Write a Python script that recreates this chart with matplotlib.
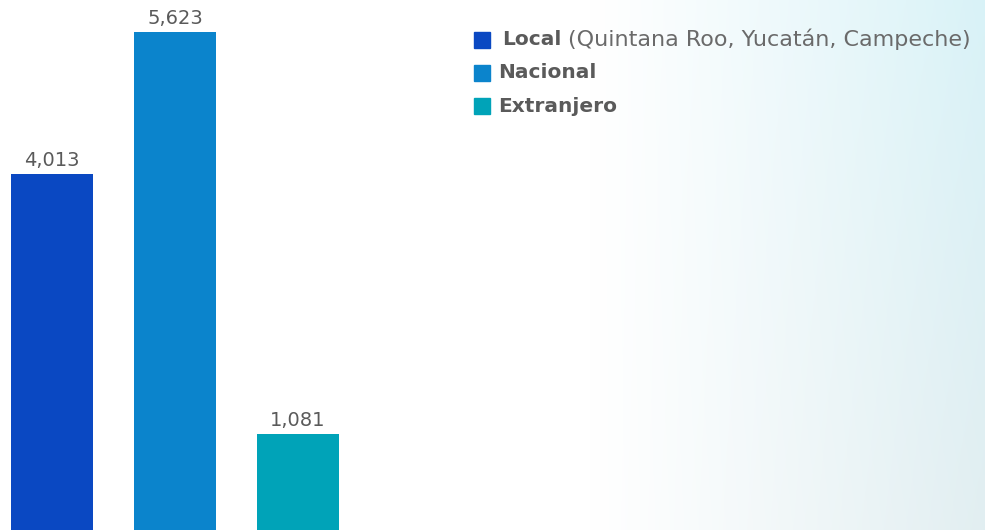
import numpy as np
import matplotlib
matplotlib.use("Agg")
import matplotlib.pyplot as plt
from matplotlib.patches import Rectangle

# --- datos ---
categorias = ["Local", "Nacional", "Extranjero"]
valores = [4013, 5623, 1081]
colores = ["#0a48c2", "#0b84cc", "#00a3b8"]
etiquetas = ["4,013", "5,623", "1,081"]
detalle_local = "(Quintana Roo, Yucatán, Campeche)"

gris = "#5a5a5a"
plt.rcParams['font.family'] = ['DejaVu Sans']

fig = plt.figure(figsize=(9.85, 5.3), dpi=100)

# fondo: degradado claro a la derecha
bg = fig.add_axes([0, 0, 1, 1], zorder=-10)
w, h = 400, 200
xx = np.linspace(0, 1, w)
yy = np.linspace(0, 1, h)[:, None]
t = np.clip((xx - 0.6) / 0.4, 0, 1) ** 1.1
cian = np.array([0.85, 0.95, 0.97])
grisf = np.array([0.91, 0.925, 0.93])
mezcla = (1 - yy * 0.6)[..., None] * cian + (yy * 0.6)[..., None] * grisf
img = np.ones((h, w, 3)) * (1 - t[None, :, None]) + mezcla * t[None, :, None]
bg.imshow(img, aspect='auto', extent=[0, 1, 0, 1], origin='upper')
bg.axis('off')

ax = fig.add_axes([0, 0, 1, 1])
ax.patch.set_alpha(0)
x = np.arange(len(valores))
barras = ax.bar(x, valores, width=0.667, color=colores)
for b, lab in zip(barras, etiquetas):
    ax.annotate(lab, (b.get_x() + b.get_width() / 2, b.get_height()),
                xytext=(0, 3), textcoords='offset points',
                ha='center', va='bottom', fontsize=14, color=gris)
ax.set_xlim(-0.423, 7.585)
ax.set_ylim(0, 5982)
ax.axis('off')

# leyenda manual
ys = [0.925, 0.864, 0.800]
for i, (cat, col) in enumerate(zip(categorias, colores)):
    fig.patches.append(Rectangle((474 / 985, ys[i] - 0.016), 16 / 985, 16 / 530,
                                 transform=fig.transFigure, color=col))
    xt = 502 / 985 if i == 0 else 498 / 985
    t1 = fig.text(xt, ys[i], cat, fontsize=14.5, fontweight='bold', color=gris,
                  va='center', ha='left')
    if i == 0:
        fig.canvas.draw()
        bb = t1.get_window_extent()
        fig.text((bb.x1 + 7) / 985, ys[i], detalle_local, fontsize=16,
                 color="#6a6a6a", va='center', ha='left')

fig.savefig("out.png", dpi=100)
